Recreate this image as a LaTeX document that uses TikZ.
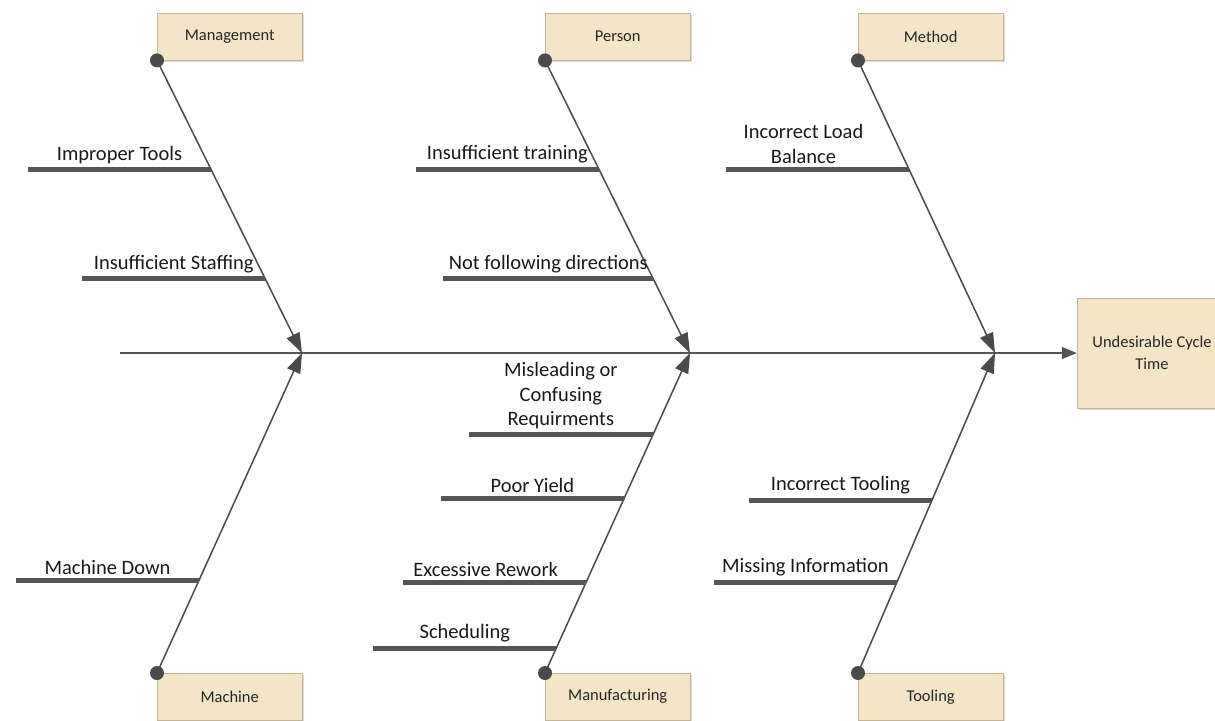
\documentclass[tikz,border=0pt]{standalone}
\usepackage{fontspec}
\setmainfont{Carlito}
\usetikzlibrary{arrows.meta, calc, shadows}
\definecolor{fishgray}{HTML}{555555}
\definecolor{bonegray}{HTML}{4A4A4A}
\definecolor{boxfill}{HTML}{F3E5C6}
\definecolor{boxline}{HTML}{C4B596}

\begin{document}
\begin{tikzpicture}[x=1pt, y=-1pt,
  category/.style={draw=boxline, fill=boxfill, minimum width=145pt, minimum height=47pt, anchor=north west, font=\fontsize{16.5}{19}\selectfont, text=black!85, drop shadow={shadow xshift=1.5pt, shadow yshift=-1.5pt, fill=black!25, opacity=.6}},
  effectbox/.style={draw=boxline, fill=boxfill, minimum width=150pt, minimum height=110pt, align=center, font=\fontsize{16.5}{22}\selectfont, text=black!85, drop shadow={shadow xshift=1.5pt, shadow yshift=-1.5pt, fill=black!25, opacity=.6}},
  bone/.style={draw=bonegray, line width=1.5pt, -{Triangle[length=20pt, width=14pt]}},
  spine/.style={draw=fishgray, line width=1.5pt, -{Triangle[length=15pt, width=12pt]}},
  cause/.style={draw=fishgray, line width=5pt},
  causelabel/.style={midway, above, align=center, font=\fontsize{20.5}{24.5}\selectfont, text=black!90},
  dot/.style={fill=bonegray},
]
\useasboundingbox (0,0) rectangle (1215,720);
\clip (0,0) rectangle (1215,720);

% Categories
\node[category] (mgmt) at (157,13) {Management};
\node[category] (person) at (545,13) {Person};
\node[category] (method) at (858,13) {Method};
\node[category] (machine) at (157,673) {Machine};
\node[category] (manuf) at (545,673) {Manufacturing};
\node[category] (tooling) at (858,673) {Tooling};

% Effect
\node[effectbox] (effect) at (1152,353) {Undesirable Cycle\\Time};

% Spine and joints
\coordinate (tail) at (120,353);
\coordinate (j1) at (302,353);
\coordinate (j2) at (690,353);
\coordinate (j3) at (995,353);
\draw[spine] (tail) -- (effect.west);

% Upper bones
\draw[bone] (mgmt.south west) -- coordinate[pos=.372] (mgmt1) coordinate[pos=.747] (mgmt2) (j1);
\draw[bone] (person.south west) -- coordinate[pos=.372] (person1) coordinate[pos=.747] (person2) (j2);
\draw[bone] (method.south west) -- coordinate[pos=.372] (method1) (j3);

% Lower bones
\draw[bone] (machine.north west) -- coordinate[pos=.29] (machine1) (j1);
\draw[bone] (manuf.north west) -- coordinate[pos=.078] (manuf1) coordinate[pos=.284] (manuf2) coordinate[pos=.544] (manuf3) coordinate[pos=.744] (manuf4) (j2);
\draw[bone] (tooling.north west) -- coordinate[pos=.284] (tooling1) coordinate[pos=.54] (tooling2) (j3);

% Dots
\foreach \c in {mgmt, person, method}
  \fill[dot] (\c.south west) circle (7);
\foreach \c in {machine, manuf, tooling}
  \fill[dot] (\c.north west) circle (7);

% Causes
\draw[cause] (mgmt1) -- ++(-183,0) coordinate (mgmt1e) node[causelabel] (tools) {Improper Tools};
\draw[cause] (mgmt2) -- ++(-183,0) coordinate (mgmt2e) node[causelabel] (staffing) {Insufficient Staffing};
\draw[cause] (person1) -- ++(-183,0) coordinate (person1e) node[causelabel] (training) {Insufficient training};
\draw[cause] (person2) -- ++(-210,0) coordinate (person2e) node[causelabel] (directions) {Not following directions};
\draw[cause] (method1) -- ++(-183,0) coordinate (method1e) node[causelabel, xshift=-14pt] (balance) {Incorrect Load\\Balance};
\draw[cause] (machine1) -- ++(-183,0) coordinate (machine1e) node[causelabel] (down) {Machine Down};
\draw[cause] (manuf4) -- ++(-184,0) coordinate (manuf4e) node[causelabel] (misleading) {Misleading or\\Confusing\\Requirments};
\draw[cause] (manuf3) -- ++(-183,0) coordinate (manuf3e) node[causelabel] (yield) {Poor Yield};
\draw[cause] (manuf2) -- ++(-183,0) coordinate (manuf2e) node[causelabel, xshift=-9pt] (rework) {Excessive Rework};
\draw[cause] (manuf1) -- ++(-183,0) coordinate (manuf1e) node[causelabel] (scheduling) {Scheduling};
\draw[cause] (tooling2) -- ++(-183,0) coordinate (tooling2e) node[causelabel] (wrongtool) {Incorrect Tooling};
\draw[cause] (tooling1) -- ++(-183,0) coordinate (tooling1e) node[causelabel] (missing) {Missing Information};

\end{tikzpicture}
\end{document}
